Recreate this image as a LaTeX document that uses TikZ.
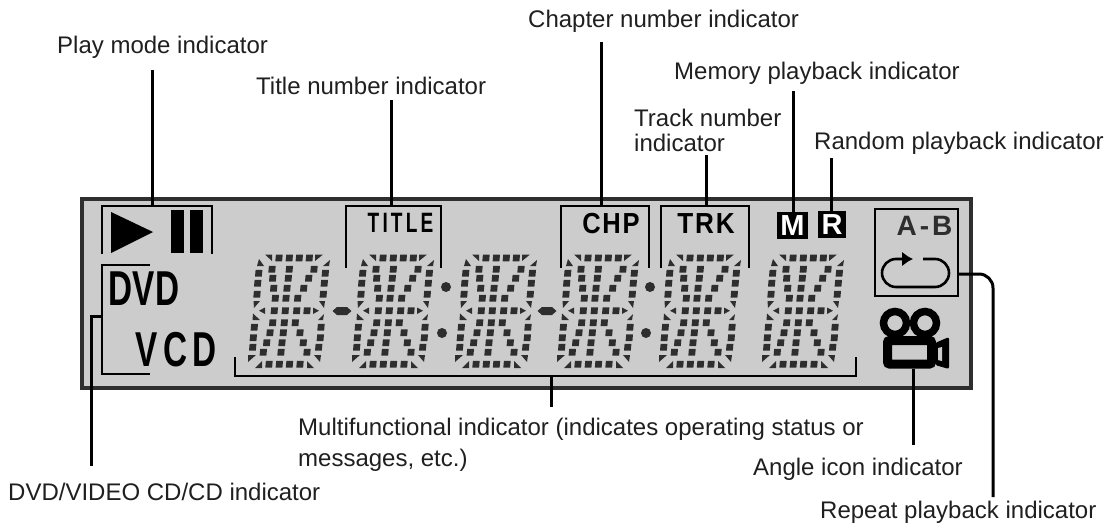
\documentclass[tikz,border=0pt]{standalone}
\usepackage{fontspec}
\setmainfont{Liberation Sans}
\usetikzlibrary{arrows.meta}
\usetikzlibrary{positioning}
\definecolor{lcdgray}{HTML}{CCCCCC}
\definecolor{lcdink}{HTML}{2E2E2E}
\newcommand{\narrow}[2]{\scalebox{#1}[1]{#2}}
\tikzset{x=1pt, y=-1pt,
         callout/.style={anchor=west, inner sep=0pt, align=left, text=black!88, font=\fontsize{24}{25}\selectfont},
         lcdtext/.style={inner sep=0pt, font=\bfseries},
         leader/.style={draw, line width=3pt},
         bracket/.style={draw, line width=2.4pt},
         badge/.style={fill=black, text=white, inner sep=0pt, font=\fontsize{29}{29}\selectfont\bfseries},
         segment/.style={fill=lcdink, draw=none},
         lcd digit/.pic={
           \foreach \x/\y in {40/8, 50.3/8, 60.3/8, 70.3/8,
                              19.7/23.3, 18.7/33.3, 18/44.3, 86.3/23.3, 85.3/33.3, 84.3/44.3,
                              35.3/60.7, 46.3/60.7, 57.7/60.7, 68/60.7,
                              15.3/77.3, 14.3/87.7, 13.7/97.3, 82/77.3, 81.3/87.7, 79.7/97.3,
                              30/114.3, 40.3/114.3, 50.5/114.3, 61/114.3,
                              33/19.3, 33.7/28.3, 34.7/38.3, 36.3/48.3,
                              50.3/19.3, 49.3/28.3, 48/38.3, 47/48.3,
                              75/19.3, 69.7/28.3, 64.7/38.3, 58.7/48.3,
                              33.7/72.7, 31/82.7, 27.7/92.7, 24.3/102.3,
                              45.3/72.7, 44.3/82.7, 43/92.7, 42/102.3,
                              56.3/72.7, 61/82.7, 64.3/92.7, 68/102.3}
             \fill[segment] (\x,\y) ++(-3.1,-3.4) -- ++(6.8,0) -- ++(-.6,6.8) -- ++(-6.8,0) -- cycle;
           \fill[segment] (26,4.5) -- (33,4.5) -- (33,11) -- cycle;
           \fill[segment] (76,4.5) -- (84,4.5) -- (76,11) -- cycle;
           \fill[segment] (18,16) -- (20,9) -- (25,16) -- cycle;
           \fill[segment] (91,10) -- (90,16) -- (84,16) -- cycle;
           \fill[segment] (14.5,51) -- (21,51) -- (15,58) -- cycle;
           \fill[segment] (80,51) -- (86,51) -- (85,58) -- cycle;
           \fill[segment] (20,60.7) -- (26,57.5) -- (26,64) -- cycle;
           \fill[segment] (80,60.7) -- (74,57.5) -- (74,64) -- cycle;
           \fill[segment] (14,63.5) -- (21,70) -- (13.5,70) -- cycle;
           \fill[segment] (85,64) -- (84,70) -- (79,70) -- cycle;
           \fill[segment] (9,105) -- (17,105) -- (9,112) -- cycle;
           \fill[segment] (82,105) -- (75,105) -- (81,112) -- cycle;
           \fill[segment] (16,118) -- (23,111) -- (23,118) -- cycle;
           \fill[segment] (68,111) -- (75,118) -- (68,118) -- cycle;
         } }

\begin{document}
\begin{tikzpicture}
    \useasboundingbox (0,0) rectangle (1106,525);
    % display panel
    \node[draw=lcdink, fill=lcdgray, line width=4pt, minimum width=889pt, minimum height=189pt] (panel) at (526.5,293.5) {};

    % digits
    \foreach \p in {239, 343, 446, 548, 650, 753}
      \pic at (\p,250) {lcd digit};
    \foreach \p in {342, 547}
      \fill[lcdink] (\p,311) ++(-9.5,0) -- ++(4.5,-4) -- ++(10,0) -- ++(4.5,4) -- ++(-4.5,4) -- ++(-10,0) -- cycle;
    \foreach \p/\q in {446/287, 442/333, 650/287, 646/333}
      \fill[lcdink] (\p,\q) circle (5);

    % play and pause
    \draw[bracket] (102,254) |- (212,206) -- (212,254);
    \fill (111,212) -- (153,232) -- (111,253) -- cycle;
    \fill (171,210) rectangle (184,253);
    \fill (190,210) rectangle (203,253);

    % disc type
    \draw[bracket] (150,265) -| (102,374) -- (150,374);
    \node[lcdtext, font=\fontsize{49}{49}\selectfont\bfseries] (dvd) at (144,289) {\narrow{.68}{DVD}};
    \node[lcdtext, font=\fontsize{49}{49}\selectfont\bfseries] (vcd) at (176,350) {\narrow{.68}{V\,C\,D}};

    % title, chapter, track
    \draw[bracket] (346,268) |- (441,206) -- (441,268);
    \draw[bracket] (561,268) |- (649,206) -- (649,268);
    \draw[bracket] (661,268) |- (749,206) -- (749,268);
    \node[lcdtext, font=\fontsize{28}{28}\selectfont\bfseries] (title) at (400.5,223) {\narrow{.68}{T\,I\,T\,L\,E}};
    \node[lcdtext, font=\fontsize{29}{29}\selectfont\bfseries] (chp) at (611,224) {\narrow{.88}{C\kern2pt H\kern2pt P}};
    \node[lcdtext, font=\fontsize{29}{29}\selectfont\bfseries] (trk) at (706,224) {\narrow{.9}{T\kern2pt R\kern2pt K}};
    \node[badge, minimum width=31pt, minimum height=27pt] (mem) at (792.5,225.5) {M};
    \node[badge, minimum width=28pt, minimum height=27pt] (rnd) at (832,224.5) {R};

    % repeat box
    \node[draw, line width=2.4pt, minimum width=83pt, minimum height=87pt] (rep) at (916.5,252.5) {};
    \node[lcdtext, font=\fontsize{28}{28}\selectfont\bfseries, text=lcdink] (ab) at (924.5,226) {A\kern3pt-\kern3pt B};
    \draw[line width=2.6pt, -{Latex[length=11pt,width=15pt]}] (923,259) -- (935,259) arc[start angle=-90, end angle=90, radius=14] -- (896,287) arc[start angle=90, end angle=270, radius=14] -- (913,259);

    % camera
    \draw[line width=7.5pt] (895,323) circle (11.5);
    \draw[line width=7.5pt] (925,323) circle (11.5);
    \draw[fill=lcdgray, line width=9pt, rounded corners=2pt] (887.5,340.5) rectangle (931.5,364);
    \node[inner sep=0pt, minimum width=0pt] (cam) at (913,368) {};
    \fill[rounded corners=2pt] (935,343) -- (949,337) -- (949,369) -- (935,365) -- cycle;
    \fill[lcdgray] (938,348) -- (942,347) -- (942,361) -- (938,360) -- cycle;

    % lower bracket
    \draw[bracket] (235,357) |- (856,376) -- (856,357);
    \coordinate (multitop) at (551,376);

    % labels
    \node[callout] (playlabel) at (57,47) {Play mode indicator};
    \node[callout] (titlelabel) at (256,86) {Title number indicator};
    \node[callout] (chplabel) at (528,21) {Chapter number indicator};
    \node[callout] (memlabel) at (674,73) {Memory playback indicator};
    \node[callout] (trklabel) at (634,130) {Track number\\indicator};
    \node[callout] (rndlabel) at (814,143) {Random playback indicator};
    \node[callout] (multilabel) at (298,445) {Multifunctional indicator (indicates operating status or\\[6pt]messages, etc.)};
    \node[callout] (disclabel) at (8,492) {DVD/VIDEO CD/CD indicator};
    \node[callout] (anglelabel) at (753,469) {Angle icon indicator};
    \node[callout] (replabel) at (820,512) {Repeat playback indicator};

    % leaders
    \coordinate (playend) at (152,70);
    \coordinate (titleend) at (391,100);
    \coordinate (chpend) at (601,42);
    \coordinate (trkend) at (706,155);
    \coordinate (memend) at (793,91);
    \coordinate (rndend) at (831,158);
    \coordinate (multiend) at (551,407);
    \coordinate (discend) at (91,466);
    \coordinate (angleend) at (913,445);
    \coordinate (repend) at (993,497);
    \draw[leader] (playend) -- (152,206);
    \draw[leader] (titleend) -- (391,206);
    \draw[leader] (chpend) -- (601,206);
    \draw[leader] (trkend) -- (706,206);
    \draw[leader] (memend) -- (mem.north -| memend);
    \draw[leader] (rndend) -- (rnd.north -| rndend);
    \draw[leader] (multitop) -- (multiend);
    \draw[leader] (102,316) -| (discend);
    \draw[leader] (cam) -- (angleend);
    \draw[leader, rounded corners=14pt] (rep.east |- 0,274) -| (repend);
\end{tikzpicture}
\end{document}
